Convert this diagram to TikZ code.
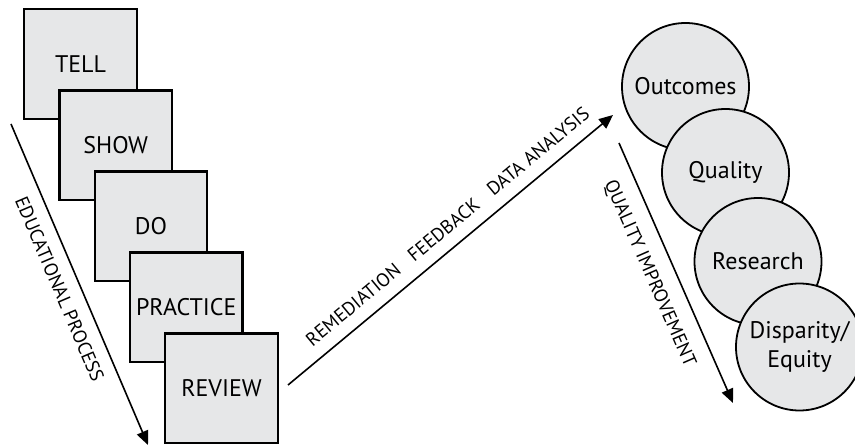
\documentclass[tikz,border=0pt]{standalone}
\usepackage{fontspec}
\setmainfont{PT Sans}
\usetikzlibrary{arrows.meta}
\definecolor{boxgray}{HTML}{E6E7E8}
\begin{document}
\begin{tikzpicture}[x=1pt,y=-1pt,
  stepbox/.style={draw=black, line width=2.4pt, fill=boxgray,
    minimum width=112.5pt, minimum height=109.5pt, inner sep=0pt,
    font=\fontsize{24}{28}\selectfont},
  topic/.style={circle, draw=black, line width=1.8pt, fill=boxgray,
    minimum size=127pt, inner sep=0pt, align=center,
    font=\fontsize{24}{29}\selectfont},
  flow/.style={line width=1.6pt, -{Triangle[length=14pt,width=12pt]}},
  flowlabel/.style={font=\fontsize{19}{22}\selectfont, sloped}]
\clip (0,0) rectangle (855,446);

% teaching steps, each overlapping the previous one
\node[stepbox] (tell)     at (80.5,64)    {TELL};
\node[stepbox] (show)     at (115.75,145.1) {SHOW};
\node[stepbox] (do)       at (151,226.2)  {DO};
\node[stepbox] (practice) at (186.25,307.3) {PRACTICE};
\node[stepbox] (review)   at (221.5,388.4) {REVIEW};

% outcome circles
\node[topic] (outcomes)  at (685.5,86.5) {Outcomes};
\node[topic] (quality)   at (725.5,172.5) {Quality};
\node[topic] (research)  at (758,261.5) {Research};
\node[topic] (disparity) at (799.5,347) {Disparity/\\Equity};

% arrow end points
\coordinate (eduA) at (11,124);
\coordinate (eduB) at (148,445);
\coordinate (fbA)  at (288,385);
\coordinate (fbB)  at (613,115);
\coordinate (qiA)  at (619,143);
\coordinate (qiB)  at (733,403);

\draw[flow] (eduA) -- node[flowlabel, below=9pt, pos=0.49] {EDUCATIONAL PROCESS} (eduB);
\draw[flow] (fbA) -- node[flowlabel, above=9pt, pos=0.53]
  {REMEDIATION\hspace{16pt}FEEDBACK\hspace{16pt}DATA ANALYSIS} (fbB);
\draw[flow] (qiA) -- node[flowlabel, below=12pt, pos=0.465] {QUALITY IMPROVEMENT} (qiB);
\end{tikzpicture}
\end{document}
